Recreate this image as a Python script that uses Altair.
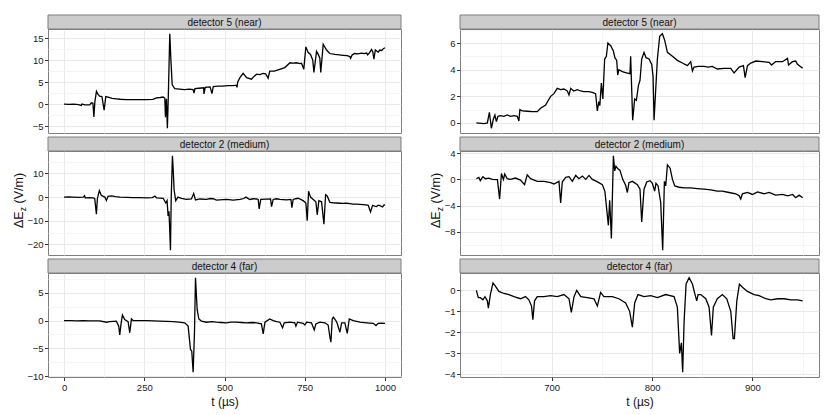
import altair as alt
import pandas as pd

# ---------------- data (t in µs, ΔEz in V/m) ----------------
# left column: full record 0–1000 µs
near_full = [(0, 0.0), (15, -0.05), (30, 0.0), (45, -0.1), (54, -0.3), (56, 0.0), (65, -0.2), (80, -0.2),
             (85, 0.3), (90, 0.2), (93, -2.9), (96, 0.5), (101, 2.9), (106, 2.2), (111, 1.8), (118, 1.7),
             (125, -1.4), (130, 1.7), (140, 1.5), (150, 1.3), (163, 1.2), (175, 1.1), (194, 1.0), (215, 1.0),
             (235, 1.0), (255, 1.0), (277, 1.05), (288, 1.4), (300, 1.5), (309, 1.6), (314, 1.3), (316, -3.0),
             (319, 1.2), (322, -5.5), (325, 2.0), (329.5, 16.0), (333, 10.0), (337, 4.4), (345, 3.5),
             (360, 3.4), (375, 3.3), (390, 3.4), (402, 3.3), (405, 2.5), (408, 3.5), (420, 3.6), (435, 3.7),
             (436, 2.3), (440, 3.8), (455, 3.9), (461, 2.4), (465, 4.0), (480, 4.1), (495, 4.1), (510, 4.2),
             (527, 4.2), (537, 4.3), (539, 3.8), (541, 5.0), (548, 6.0), (558, 7.0), (569, 6.0), (584, 5.65),
             (592, 6.3), (600, 6.8), (610, 6.7), (620, 7.0), (628, 6.9), (636, 5.9), (641, 7.5), (655, 7.5),
             (672, 7.9), (688, 8.3), (704, 9.4), (714, 9.3), (724, 9.4), (735, 9.2), (740, 9.3), (747, 7.9),
             (753.5, 13.0), (761, 11.7), (768, 11.3), (775, 10.0), (778.6, 7.2), (786.8, 12.0), (792, 11.3),
             (797, 10.5), (800, 7.2), (807.6, 13.6), (818, 12.3), (828, 11.5), (844, 11.3), (858, 11.2),
             (870, 11.1), (882, 11.0), (890.7, 10.8), (893, 10.4), (898, 11.2), (906, 11.5), (915, 11.4),
             (927, 11.6), (935, 11.5), (943, 11.6), (946, 11.2), (951, 11.6), (958, 12.4), (962, 11.9),
             (965.6, 10.2), (970, 12.3), (979, 11.8), (984, 12.3), (990, 12.2), (995, 12.6), (1000, 12.8)]

medium_full = [(0, 0.0), (15, 0.05), (28, 0.0), (45, -0.1), (60, 0.0), (64, 0.6), (66, -0.3), (80, -0.2),
               (90, -0.3), (95.6, -0.6), (100.8, -7.2), (104, -0.5), (110, 2.8), (116, 0.8), (122, 0.3),
               (127, 0.0), (132, -1.5), (137, 0.3), (148, 0.5), (160, 0.2), (174, 0.0), (195, -0.1),
               (215, -0.2), (236, -0.2), (257, -0.3), (275, -0.2), (283, 0.4), (288, -0.3), (300, -0.4),
               (309, -0.5), (317, -2.5), (321, -1.5), (324.3, -8.0), (327, -6.0), (328.5, -11.0),
               (331.6, -22.5), (334, 0.0), (337.8, 17.5), (340, 12.0), (343, 3.0), (348, -1.5), (355, 0.0),
               (366, -0.5), (381, -1.0), (397, -0.8), (404, 1.5), (409.6, -1.2), (423, -0.8), (444, -1.0),
               (455, -0.6), (465, -0.7), (475, -1.3), (485, -1.2), (506, -1.0), (527, -1.3), (548, -1.0),
               (560, -0.6), (566.5, 0.0), (579, -1.0), (590, -0.7), (600, -0.8), (605, -1.0), (608, -5.0),
               (613, -1.0), (631, -0.9), (643.5, -0.8), (646.6, -4.0), (651.8, -1.0), (662, -0.7),
               (672.6, -1.0), (693, -1.2), (707, -1.0), (710, -4.5), (714, -1.0), (722, -0.7), (729.7, -0.5),
               (745, -1.5), (753.6, -2.5), (757.8, -10.0), (762, 2.5), (768, 0.0), (776.5, -1.0),
               (784.8, -2.0), (789, -7.5), (794, -1.5), (802.5, -2.0), (809.8, -11.5), (815, 1.0), (820, 0.5),
               (828.5, -2.2), (838, -2.4), (849, -2.5), (860, -2.6), (870, -2.7), (880, -2.6), (891, -2.8),
               (900, -3.0), (911.6, -3.0), (922, -3.1), (932, -3.2), (940, -3.3), (948, -3.5), (955, -6.3),
               (961.5, -3.5), (968, -3.8), (974, -4.0), (979, -3.4), (984, -3.6), (992.7, -4.2), (996, -3.5),
               (1000, -3.2)]

far_full = [(0, 0.0), (20, 0.0), (40, -0.05), (59, 0.0), (80, -0.05), (111, -0.05), (132, -0.3), (142, -0.2),
            (163, -0.1), (170.5, -1.0), (173.6, -2.6), (177.8, -0.5), (182, 1.0), (189, 0.2), (199.6, -0.2),
            (204.8, -2.2), (210, 0.3), (215, 0.0), (236, 0.0), (257, 0.0), (278, -0.05), (298, -0.1),
            (320, -0.15), (340, -0.2), (358, -0.3), (376, -0.4), (386.7, -1.0), (394, -5.2), (398, -5.5),
            (402.3, -9.3), (406.5, -2.0), (409.6, 7.7), (414.8, 2.0), (420, 0.3), (428, -0.1), (444, -0.3),
            (460, -0.2), (475, -0.3), (490, -0.35), (506, -0.4), (520, -0.3), (537, -0.3), (552, -0.35),
            (568.6, -0.4), (585, -0.35), (600, -0.4), (615, -0.6), (620.6, -2.4), (626, -0.3), (641, 0.3),
            (651.8, 0.0), (662, -0.2), (672.6, -0.3), (681, -1.3), (686, -0.4), (703.7, -0.3), (719, -0.4),
            (722.5, -1.0), (727.6, -0.3), (745, -0.5), (750.5, -0.8), (755.7, -0.3), (771, -0.4),
            (779.6, -1.7), (784.8, -0.6), (797, -0.3), (813, -0.4), (823, -0.8), (828.5, -3.0),
            (831.6, -3.9), (835.7, 0.3), (839, 0.6), (847, 0.0), (851, -0.5), (859.7, -2.1), (865, -0.4),
            (875, -0.4), (882.5, -2.3), (888.8, 0.3), (901, 0.0), (922, -0.3), (943, -0.4), (963.6, -0.5),
            (972, -0.9), (979, -0.5), (990, -0.45), (1000, -0.5)]

# right column: window 625–950 µs
near_zoom = [(625, 0.0), (632.6, -0.05), (636, 0.0), (638, 0.8), (640, -0.4), (642, 0.3), (643.5, 0.6),
             (645, 0.1), (646.5, 0.5), (649, 0.55), (652.5, 0.5), (655.8, 0.6), (659, 0.5), (662.5, 0.55),
             (665.8, 0.5), (667.4, 0.15), (668.4, 1.0), (670.8, 0.9), (675.7, 0.88), (680.7, 0.85),
             (685.7, 0.85), (689, 1.1), (694, 1.35), (699, 2.0), (702.3, 2.2), (705.6, 2.6), (709, 2.5),
             (712.3, 2.55), (715.6, 2.4), (717.3, 2.1), (719, 2.6), (722, 2.4), (725.6, 2.5), (729, 2.4),
             (732, 2.35), (737, 2.35), (740.5, 2.3), (743.8, 2.2), (745.5, 0.9), (747, 1.6), (748, 1.3),
             (749.5, 3.0), (751, 1.8), (752.8, 4.8), (754.5, 5.0), (756, 6.0), (758.8, 5.8), (761.5, 5.4),
             (763, 4.9), (764.8, 4.7), (765.8, 3.6), (767, 4.0), (770.4, 3.85), (775.4, 3.75), (778, 3.7),
             (778.7, 5.0), (780.7, 0.2), (782.7, 1.8), (784.4, 1.7), (786.4, 2.8), (788, 3.2), (789.7, 4.8),
             (792, 5.3), (794, 4.9), (797, 4.8), (799.7, 4.4), (801, 3.5), (802, 0.2), (804, 3.0),
             (805.3, 4.8), (807.6, 6.5), (810.3, 6.7), (812.6, 6.2), (815.3, 5.3), (820.3, 5.0), (825.2, 4.7),
             (830.2, 4.5), (835.2, 4.3), (838.5, 4.6), (840.2, 3.9), (841.8, 4.2), (846, 4.25), (851.8, 4.25),
             (856, 4.2), (860, 4.25), (865, 4.05), (871.7, 4.1), (878.4, 4.1), (881.7, 3.75), (886.7, 4.2),
             (891, 4.3), (892.7, 3.4), (895, 4.3), (898.3, 4.5), (903.3, 4.65), (910, 4.6), (916.6, 4.55),
             (919, 4.35), (923, 4.6), (929.9, 4.6), (934.9, 4.85), (935.9, 4.35), (939.8, 4.6), (943, 4.65),
             (944.8, 4.4), (950, 4.1)]

medium_zoom = [(625, 0.1), (627.5, 0.3), (629, -0.2), (631.6, 0.4), (634, 0.1), (637.5, 0.2), (641, 0.0),
               (646, -0.05), (648.2, -3.0), (650, 0.9), (652, 0.0), (653.3, 0.8), (655.8, 0.1), (659, 0.0),
               (664, 0.2), (669, -0.1), (673, -0.8), (675.7, 0.7), (679, 0.1), (685.7, -0.3), (692.4, -0.3),
               (699, -0.5), (702.3, -0.7), (707.3, -0.3), (709, -3.6), (710.6, -0.4), (714, 0.3),
               (717.3, 0.4), (720.6, -0.3), (724, 0.6), (727.2, 0.1), (730.6, 0.5), (734, 0.0), (737.2, 0.6),
               (740.5, 0.0), (744.8, -0.3), (750.5, -0.8), (753, -1.8), (756.5, -7.0), (757.8, -3.2),
               (759.5, -9.0), (761.5, 3.6), (762.8, 1.3), (764, 2.0), (766, 1.6), (768, 1.4), (770.8, 0.0),
               (773.7, -0.9), (775.4, -2.0), (777, -0.5), (780.4, -0.3), (785.4, -0.8), (788, -1.5),
               (789.7, -6.5), (792, -1.5), (794.7, -0.4), (798, -0.2), (800.3, -0.6), (802.6, -1.8),
               (803.9, -0.6), (806, -1.0), (808.6, -3.5), (810.6, -10.8), (812.3, -0.3), (813.6, -1.0),
               (815.3, 2.2), (818, 1.7), (820.3, 0.0), (822.6, -1.0), (827, -1.2), (832, -1.3), (838.5, -1.3),
               (845, -1.4), (851.8, -1.5), (858.5, -1.6), (865, -1.8), (870, -1.8), (876.7, -2.0),
               (883.4, -2.2), (886.7, -2.5), (888.3, -3.0), (890, -2.2), (895, -2.0), (900, -2.3),
               (905, -1.9), (911.6, -2.2), (916.6, -2.0), (923, -2.4), (930, -2.3), (935, -2.5), (940, -2.3),
               (943, -2.8), (946.5, -2.4), (950, -2.8)]

far_zoom = [(625, 0.0), (627, -0.35), (629, -0.35), (631.6, -0.45), (633.6, -0.3), (636, -0.5), (637, -0.85),
            (639, -0.2), (641.6, 0.35), (644, 0.2), (647.5, -0.05), (652.5, -0.15), (657.5, -0.2),
            (662.5, -0.3), (669, -0.4), (674, -0.3), (677.3, -0.45), (680, -0.75), (681.3, -1.4), (683, -0.5),
            (685.7, -0.3), (692.4, -0.3), (699, -0.25), (705.6, -0.3), (712.3, -0.2), (717.3, -0.4),
            (719.6, -1.05), (722.3, -0.3), (725, 0.0), (729, -0.3), (735.5, -0.35), (742.2, -0.4),
            (745.5, -0.75), (748.8, -0.1), (752, -0.3), (760.5, -0.3), (767, -0.4), (773.7, -0.6),
            (777.7, -1.0), (780.4, -1.75), (782.7, -0.6), (786, -0.2), (792, -0.3), (798.7, -0.25),
            (805.3, -0.35), (813.6, -0.2), (821.9, -0.3), (825.2, -0.8), (827.5, -3.0), (829.2, -2.5),
            (830.5, -3.9), (831.9, -1.5), (833.9, 0.3), (836.9, 0.6), (840.2, 0.3), (842.8, -0.2),
            (844.5, -0.5), (845.8, -0.2), (848.5, -0.2), (853.5, -0.4), (856.8, -0.8), (859.2, -2.15),
            (861, -0.8), (865, -0.4), (870, -0.2), (874.4, -0.4), (878.4, -1.0), (880.7, -2.3), (882, -2.3),
            (884.4, -0.5), (887, 0.3), (890, 0.15), (895, -0.05), (901.6, -0.2), (906.6, -0.25),
            (913.3, -0.4), (918.3, -0.45), (925, -0.4), (931.5, -0.4), (938.2, -0.45), (944.8, -0.45),
            (950, -0.5)]

strip_labels = ["detector 5 (near)", "detector 2 (medium)", "detector 4 (far)"]

# tick breaks (major labelled, minor grid only)
x_major_full, x_minor_full = [0, 250, 500, 750, 1000], [125, 375, 625, 875]
x_major_zoom, x_minor_zoom = [700, 800, 900], [650, 750, 850, 950]
y_breaks_full = [([-5, 0, 5, 10, 15], [-2.5, 2.5, 7.5, 12.5]),
                 ([-20, -10, 0, 10], [-15, -5, 5, 15]),
                 ([-10, -5, 0, 5], [-7.5, -2.5, 2.5, 7.5])]
y_breaks_zoom = [([0, 2, 4, 6], [-1, 1, 3, 5, 7]),
                 ([-8, -4, 0, 4], [-10, -6, -2, 2]),
                 ([-4, -3, -2, -1, 0], [-3.5, -2.5, -1.5, -0.5, 0.5])]

FONT = "Liberation Sans"
STRIP_H = 14
PANEL_H = 104
MAJ_GRID = "#e5e5e5"
MIN_GRID = "#f2f2f2"


def expand(lo, hi):
    pad = (hi - lo) * 0.05
    return [lo - pad, hi + pad]


def is_major(major):
    return "indexof([" + ",".join(str(m) for m in major) + "], datum.value) >= 0"


def panel(series, label, major_x, minor_x, major_y, minor_y, width, bottom, ytitle_x=None):
    df = pd.DataFrame(series, columns=["t", "v"])
    xdom = expand(df.t.min(), df.t.max())
    ydom = expand(df.v.min(), df.v.max())
    xvals = sorted(v for v in major_x + minor_x if xdom[0] <= v <= xdom[1])
    yvals = sorted(v for v in major_y + minor_y if ydom[0] <= v <= ydom[1])
    tx, ty = is_major(major_x), is_major(major_y)

    x_axis = alt.Axis(
        values=xvals, grid=True, domain=False, format="d",
        gridColor={"condition": {"test": tx, "value": MAJ_GRID}, "value": MIN_GRID},
        labels=bottom, ticks=bottom,
        tickOpacity={"condition": {"test": tx, "value": 1}, "value": 0},
        labelExpr=f"{tx} ? datum.label : ''",
        title="t  (µs)" if bottom else None,
        labelPadding=1.5, titlePadding=5,
    )
    y_axis = alt.Axis(
        values=yvals, grid=True, domain=False, format="d",
        gridColor={"condition": {"test": ty, "value": MAJ_GRID}, "value": MIN_GRID},
        tickOpacity={"condition": {"test": ty, "value": 1}, "value": 0},
        labelExpr=f"{ty} ? datum.label : ''",
        title=None, labelPadding=1.5,
    )
    line = alt.Chart(df).mark_line(color="#000000", strokeWidth=1.3, clip=True).encode(
        x=alt.X("t:Q", scale=alt.Scale(domain=xdom, nice=False, zero=False), axis=x_axis),
        y=alt.Y("v:Q", scale=alt.Scale(domain=ydom, nice=False, zero=False), axis=y_axis),
    )
    lab = pd.DataFrame({"label": [label]})
    strip = alt.Chart(lab).mark_rect(fill="#cccccc", stroke="#7f7f7f", strokeWidth=1).encode(
        x=alt.value(0), x2=alt.value(width), y=alt.value(-STRIP_H), y2=alt.value(0))
    strip_text = alt.Chart(lab).mark_text(font=FONT, fontSize=10, color="#111111", baseline="middle").encode(
        x=alt.value(width / 2), y=alt.value(-STRIP_H / 2 + 0.5), text="label:N")
    layers = [line, strip, strip_text]
    if ytitle_x is not None:
        parts = pd.DataFrame({"a": ["\u0394E"], "b": ["z"], "c": ["(V/m)"]})
        y0 = 77
        layers.append(alt.Chart(parts).mark_text(font=FONT, fontSize=12.5, angle=270, align="left",
                                                 baseline="alphabetic", color="#111111").encode(
            x=alt.value(ytitle_x), y=alt.value(y0), text="a:N"))
        layers.append(alt.Chart(parts).mark_text(font=FONT, fontSize=8.5, angle=270, align="left",
                                                 baseline="alphabetic", color="#111111").encode(
            x=alt.value(ytitle_x + 2.5), y=alt.value(y0 - 16.8), text="b:N"))
        layers.append(alt.Chart(parts).mark_text(font=FONT, fontSize=12.5, angle=270, align="left",
                                                 baseline="alphabetic", color="#111111").encode(
            x=alt.value(ytitle_x), y=alt.value(y0 - 24.5), text="c:N"))
    return alt.layer(*layers).properties(width=width, height=PANEL_H)


def column(series_list, major_x, minor_x, ybreaks, width, ytitle_x):
    panels = []
    for i, (s, lbl, (ymaj, ymin)) in enumerate(zip(series_list, strip_labels, ybreaks)):
        panels.append(panel(s, lbl, major_x, minor_x, ymaj, ymin, width, bottom=(i == 2),
                            ytitle_x=ytitle_x if i == 1 else None))
    return alt.vconcat(*panels, spacing=STRIP_H + 4, bounds="flush")


left = column([near_full, medium_full, far_full], x_major_full, x_minor_full, y_breaks_full, 353, -25)
right = column([near_zoom, medium_zoom, far_zoom], x_major_zoom, x_minor_zoom, y_breaks_zoom, 359, -20)

chart = alt.hconcat(left, right, spacing=27).properties(
    padding={"left": 4, "top": 6, "right": 2, "bottom": 2},
    background="white",
).configure_view(
    stroke="#7f7f7f", strokeWidth=1,
).configure_axis(
    labelFont=FONT, labelFontSize=9.5, labelColor="#1a1a1a",
    tickColor="#333333", tickSize=3.5, tickWidth=1,
    titleFont=FONT, titleFontSize=12, titleFontWeight="normal", titleColor="#111111",
    gridWidth=0.8,
)

chart.save("out.html", embed_options={"renderer": "svg", "actions": False})
